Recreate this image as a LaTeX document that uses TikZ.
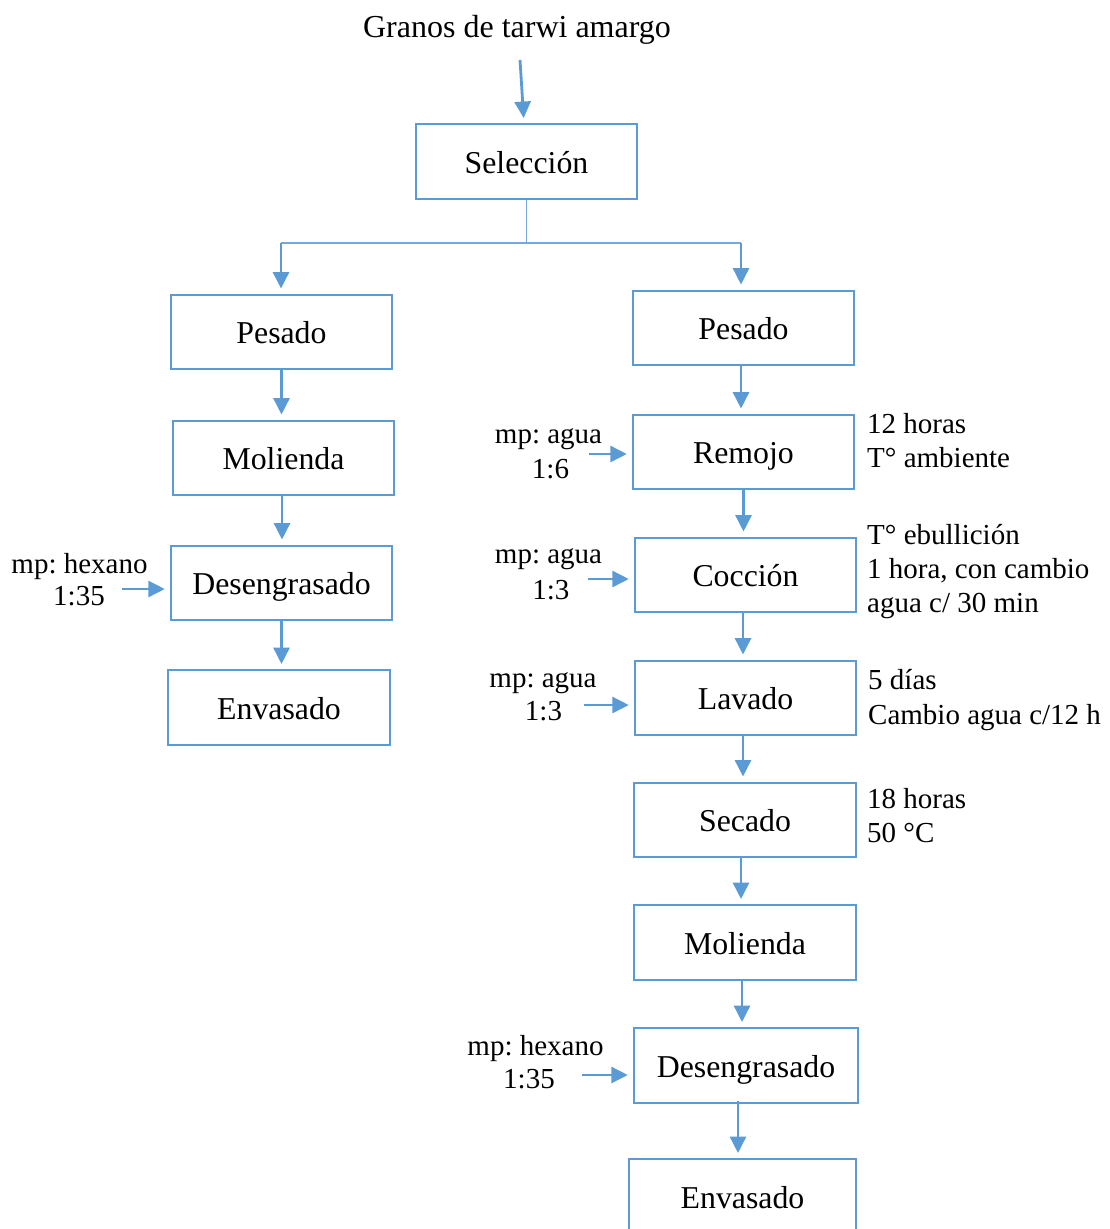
\documentclass[tikz,border=0pt]{standalone}
\usepackage{fontspec}
\setmainfont{Liberation Serif}
\usetikzlibrary{arrows.meta}
\definecolor{flowblue}{HTML}{5B9BD5}
\frenchspacing
\begin{document}
\begin{tikzpicture}[x=1pt,y=-1pt,
  stepbox/.style={draw=flowblue,line width=2.4pt,minimum width=221pt,minimum height=74.5pt,
    inner sep=0pt,text height=29pt,text depth=6pt,font=\fontsize{31.8}{36}\selectfont},
  flow/.style={draw=flowblue,line width=2.8pt,-{Triangle[width=16pt,length=16.5pt]},shorten >=5pt},
  branch/.style={draw=flowblue!85,line width=1.3pt},
  note/.style={inner sep=0pt,font=\fontsize{29}{34}\selectfont},
]
\useasboundingbox (0,0) rectangle (1109,1229);

% raw material
\node[inner sep=0pt,anchor=base,font=\fontsize{32}{36}\selectfont] (title) at (517,37) {Granos de tarwi amargo};
\coordinate (feed) at (520,60);

% process steps
\node[stepbox] (sel) at (526.5,161.5) {Selección};

\node[stepbox] (pesL) at (281.5,332) {Pesado};
\node[stepbox] (molL) at (283.5,458) {Molienda};
\node[stepbox] (desL) at (281.5,583) {Desengrasado};
\node[stepbox,minimum width=222pt] (envL) at (279,707.5) {Envasado};

\node[stepbox] (pesR) at (743.5,328) {Pesado};
\node[stepbox] (rem) at (743.5,452) {Remojo};
\node[stepbox] (coc) at (745.5,575) {Cocción};
\node[stepbox] (lav) at (745.5,698) {Lavado};
\node[stepbox,minimum width=222pt] (sec) at (745,820) {Secado};
\node[stepbox,minimum width=222pt] (molR) at (745,942.5) {Molienda};
\node[stepbox,minimum width=224pt] (desR) at (746,1065.5) {Desengrasado};
\begin{scope}
  \clip (0,0) rectangle (1109,1229);
  \node[stepbox,minimum width=227pt] (envR) at (742.5,1196.5) {Envasado};
\end{scope}

% main flow
\draw[flow] (feed) -- ([xshift=-2.5pt]sel.north);
\coordinate (br) at (sel.south |- 0,243);
\coordinate (brL) at (281,243);
\coordinate (brR) at (741,243);
\draw[branch] (sel.south) -- (br);
\draw[branch] (brL) -- (brR);
\draw[flow] (brL) -- (brL |- pesL.north);
\draw[flow] (brR) -- (brR |- pesR.north);

\draw[flow] (pesL.south) -- (pesL.south |- molL.north);
\draw[flow] ([xshift=-1.5pt]molL.south) -- ([xshift=-1.5pt]molL.south |- desL.north);
\draw[flow] (desL.south) -- (desL.south |- envL.north);

\draw[flow] ([xshift=-2.5pt]pesR.south) -- ([xshift=-2.5pt]pesR.south |- rem.north);
\draw[flow] (rem.south) -- (rem.south |- coc.north);
\draw[flow] ([xshift=-2.5pt]coc.south) -- ([xshift=-2.5pt]coc.south |- lav.north);
\draw[flow] ([xshift=-2.5pt]lav.south) -- ([xshift=-2.5pt]lav.south |- sec.north);
\draw[flow] ([xshift=-4pt]sec.south) -- ([xshift=-4pt]sec.south |- molR.north);
\draw[flow] ([xshift=-3pt]molR.south) -- ([xshift=-3pt]molR.south |- desR.north);
\draw[flow] ([xshift=-8pt,yshift=3pt]desR.south) -- ([xshift=-8pt]desR.south |- envR.north);

% inputs
\node[note,anchor=base] (remA) at (548.5,443) {mp: agua};
\node[note,anchor=base] (remB) at (550.5,478) {1:6};
\coordinate (remIn) at (589,454);
\draw[flow] (remIn) -- (remIn -| rem.west);

\node[note,anchor=base] (cocA) at (548.5,563) {mp: agua};
\node[note,anchor=base] (cocB) at (550.8,599) {1:3};
\coordinate (cocIn) at (588,579);
\draw[flow] (cocIn) -- (cocIn -| coc.west);

\node[note,anchor=base] (lavA) at (543,687) {mp: agua};
\node[note,anchor=base] (lavB) at (543.5,720) {1:3};
\coordinate (lavIn) at (584,705);
\draw[flow] (lavIn) -- (lavIn -| lav.west);

\node[note,anchor=base] (desRA) at (535.5,1055) {mp: hexano};
\node[note,anchor=base] (desRB) at (529,1088) {1:35};
\coordinate (desRIn) at (582,1075);
\draw[flow] (desRIn) -- (desRIn -| desR.west);

\node[note,anchor=base] (desLA) at (79.5,573) {mp: hexano};
\node[note,anchor=base] (desLB) at (79,605) {1:35};
\coordinate (desLIn) at (122,589);
\draw[flow] (desLIn) -- (desLIn -| desL.west);

% conditions
\node[note,anchor=base west] (remC1) at (867,433) {12 horas};
\node[note,anchor=base west] (remC2) at (867,467) {T° ambiente};
\node[note,anchor=base west] (cocC1) at (867,544) {T° ebullición};
\node[note,anchor=base west] (cocC2) at (867,578) {1 hora, con cambio};
\node[note,anchor=base west] (cocC3) at (867,612) {agua c/ 30 min};
\node[note,anchor=base west] (lavC1) at (868,689) {5 días};
\node[note,anchor=base west] (lavC2) at (868,724) {Cambio agua c/12 h};
\node[note,anchor=base west] (secC1) at (867,808) {18 horas};
\node[note,anchor=base west] (secC2) at (867,842) {50 °C};
\end{tikzpicture}
\end{document}
